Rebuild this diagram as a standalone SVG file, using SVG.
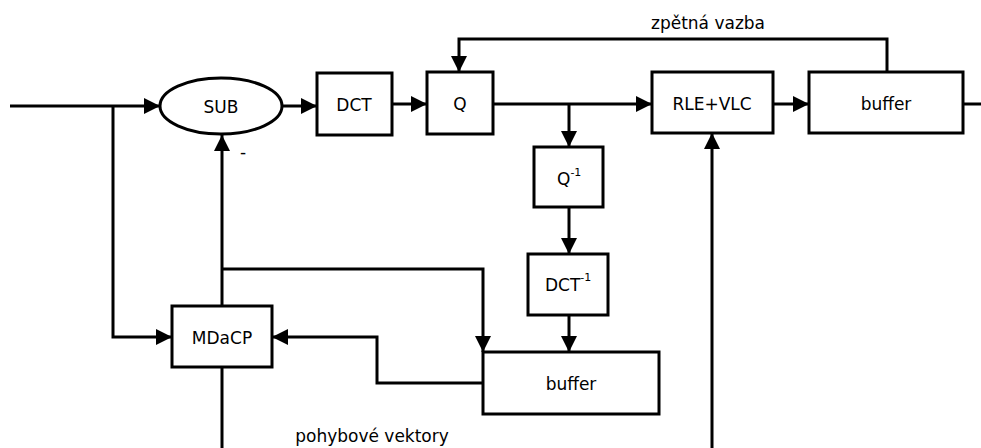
<svg xmlns="http://www.w3.org/2000/svg" width="981" height="448" viewBox="0 0 981 448">
<style>
.b{fill:#fff;stroke:#000;stroke-width:3}
.l{fill:none;stroke:#000;stroke-width:3}
text{font-family:"DejaVu Sans",sans-serif;font-size:17px;fill:#000}
.c{text-anchor:middle}
.s{font-size:11px}
</style>
<defs>
<marker id="a" markerWidth="17" markerHeight="17" refX="16" refY="8" orient="auto" markerUnits="userSpaceOnUse">
<path d="M0,0 L16,8 L0,16 Z" fill="#000"/>
</marker>
</defs>
<g id="connectors">
<path class="l" d="M10,106 H160" marker-end="url(#a)"/>
<path class="l" d="M113,106 V337 H172" marker-end="url(#a)"/>
<path class="l" d="M283,106 H317" marker-end="url(#a)"/>
<path class="l" d="M392,104 H427" marker-end="url(#a)"/>
<path class="l" d="M493,104 H652" marker-end="url(#a)"/>
<path class="l" d="M773,104 H809" marker-end="url(#a)"/>
<path class="l" d="M963,104 H981"/>
<path class="l" d="M887,72 V39 H459 V72" marker-end="url(#a)"/>
<path class="l" d="M569,104 V147" marker-end="url(#a)"/>
<path class="l" d="M569,207 V254" marker-end="url(#a)"/>
<path class="l" d="M569,315 V352" marker-end="url(#a)"/>
<path class="l" d="M222,306 V135" marker-end="url(#a)"/>
<path class="l" d="M222,269 H483 V352" marker-end="url(#a)"/>
<path class="l" d="M483,383 H377 V337 H272" marker-end="url(#a)"/>
<path class="l" d="M222,367 V448"/>
<path class="l" d="M712,448 V133" marker-end="url(#a)"/>
</g>
<g id="sub"><ellipse class="b" cx="221" cy="106" rx="61" ry="28"/><text class="c" x="221" y="113">SUB</text></g>
<text x="240" y="158">-</text>
<g id="dct"><rect class="b" x="317" y="73" width="75" height="62"/><text class="c" x="354" y="111">DCT</text></g>
<g id="q"><rect class="b" x="427" y="72" width="66" height="62"/><text class="c" x="460" y="110">Q</text></g>
<g id="rle"><rect class="b" x="652" y="72" width="121" height="61"/><text class="c" x="712" y="110">RLE+VLC</text></g>
<g id="buffer1"><rect class="b" x="809" y="72" width="154" height="61"/><text class="c" x="886" y="110">buffer</text></g>
<text class="c" x="708" y="29">zpětná vazba</text>
<g id="qinv"><rect class="b" x="534" y="147" width="69" height="60"/><text x="557" y="185">Q<tspan class="s" dy="-9">-1</tspan></text></g>
<g id="dctinv"><rect class="b" x="528" y="254" width="80" height="61"/><text x="545" y="291">DCT<tspan class="s" dy="-10">-1</tspan></text></g>
<g id="buffer2"><rect class="b" x="483" y="352" width="176" height="62"/><text class="c" x="571" y="390">buffer</text></g>
<g id="mdacp"><rect class="b" x="172" y="306" width="100" height="61"/><text class="c" x="222" y="344">MDaCP</text></g>
<text class="c" x="372" y="442">pohybové vektory</text>
</svg>
